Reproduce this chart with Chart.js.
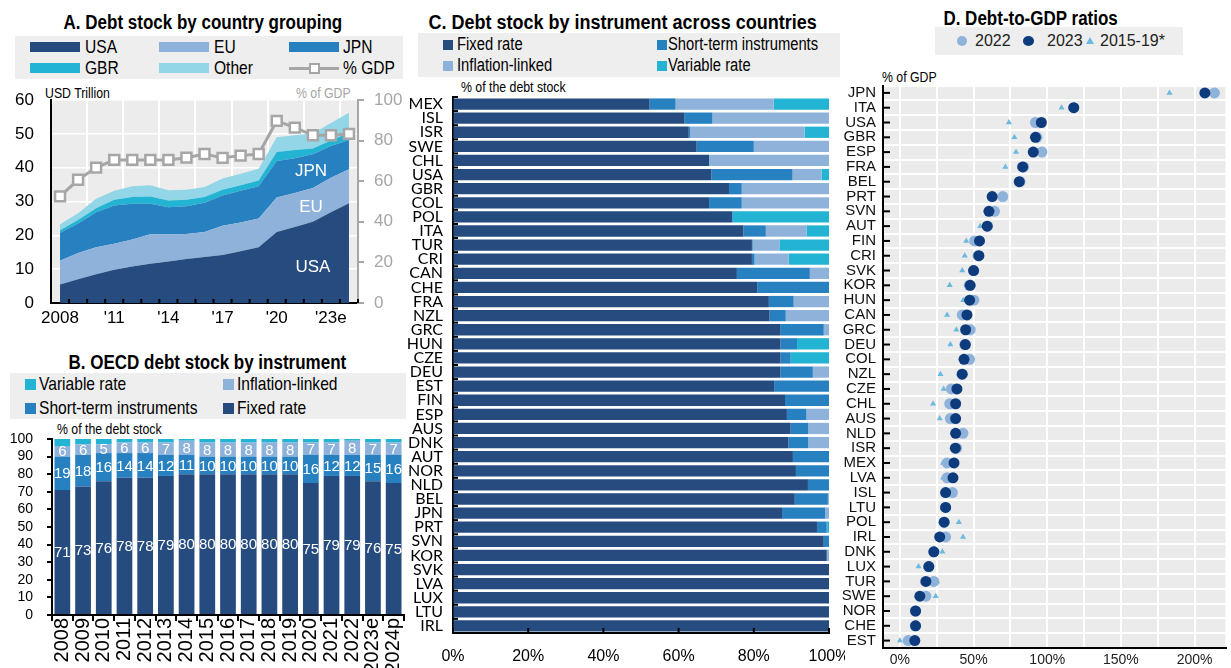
<!DOCTYPE html>
<html>
<head>
<meta charset="utf-8">
<script src="https://cdn.jsdelivr.net/npm/chart.js@4.4.1/dist/chart.umd.min.js"></script>
<style>
  body { margin: 0; width: 1231px; height: 668px; position: relative; overflow: hidden; background: #fff;
         font-family: "Liberation Sans", Arial, sans-serif; color: #000; }
  .title { position: absolute; white-space: nowrap; font-weight: bold; font-size: 20px; line-height: 22px; text-align: center; }
  .title span { display: inline-block; transform: scaleX(0.85); transform-origin: center; }
  .box { position: absolute; background: #eeeeee; }
  .lg, .cap { position: absolute; white-space: nowrap; transform-origin: left center; transform: scaleX(0.82); }
  .lg { font-size: 19px; line-height: 22px; }
  .cap { font-size: 15px; line-height: 18px; }
  .lgd { position: absolute; white-space: nowrap; font-size: 16px; line-height: 20px; color: #222; }
  .sw { position: absolute; }
  canvas { position: absolute; }
</style>
</head>
<body>

<!-- A -->
<div class="title" style="left:0;top:11px;width:406px;"><span>A. Debt stock by country grouping</span></div>
<div class="box" style="left:15px;top:36px;width:388px;height:43px;"></div>
<div class="sw" style="left:30px;top:42px;width:50px;height:10px;background:#264b7f;"></div>
<div class="lg" style="left:85px;top:36px;">USA</div>
<div class="sw" style="left:159px;top:42px;width:50px;height:10px;background:#8fb2db;"></div>
<div class="lg" style="left:214px;top:36px;">EU</div>
<div class="sw" style="left:289px;top:42px;width:50px;height:10px;background:#2780c0;"></div>
<div class="lg" style="left:343px;top:36px;">JPN</div>
<div class="sw" style="left:30px;top:63px;width:50px;height:10px;background:#22b4d2;"></div>
<div class="lg" style="left:85px;top:57px;">GBR</div>
<div class="sw" style="left:159px;top:63px;width:50px;height:10px;background:#92d6e7;"></div>
<div class="lg" style="left:214px;top:57px;">Other</div>
<div class="sw" style="left:289px;top:67px;width:50px;height:3px;background:#a6a6a6;"></div>
<div class="sw" style="left:309px;top:63px;width:7px;height:7px;background:#fff;border:2px solid #a6a6a6;"></div>
<div class="lg" style="left:343px;top:57px;">% GDP</div>
<div class="cap" style="left:45px;top:84px;">USD Trillion</div>
<div class="cap" style="left:296px;top:84px;color:#a6a6a6;">% of GDP</div>
<canvas id="chartA" width="405" height="245" style="left:0;top:85px;"></canvas>

<!-- B -->
<div class="title" style="left:0;top:351px;width:414px;"><span>B. OECD debt stock by instrument</span></div>
<div class="box" style="left:10px;top:373px;width:396px;height:46px;"></div>
<div class="sw" style="left:25px;top:379px;width:11px;height:11px;background:#22b4d2;"></div>
<div class="lg" style="left:39px;top:373px;">Variable rate</div>
<div class="sw" style="left:223px;top:379px;width:11px;height:11px;background:#8fb2db;"></div>
<div class="lg" style="left:237px;top:373px;">Inflation-linked</div>
<div class="sw" style="left:25px;top:403px;width:11px;height:11px;background:#2780c0;"></div>
<div class="lg" style="left:39px;top:397px;">Short-term instruments</div>
<div class="sw" style="left:223px;top:403px;width:11px;height:11px;background:#264b7f;"></div>
<div class="lg" style="left:237px;top:397px;">Fixed rate</div>
<div class="cap" style="left:57px;top:420px;">% of the debt stock</div>
<canvas id="chartB" width="410" height="243" style="left:0;top:425px;"></canvas>

<!-- C -->
<div class="title" style="left:407px;top:11px;width:400px;"><span style="transform:scaleX(0.9);">C. Debt stock by instrument across countries</span></div>
<div class="box" style="left:418px;top:33px;width:422px;height:44px;"></div>
<div class="sw" style="left:443px;top:40px;width:10px;height:10px;background:#264b7f;"></div>
<div class="lg" style="left:457px;top:33px;font-size:18px;">Fixed rate</div>
<div class="sw" style="left:657px;top:40px;width:10px;height:10px;background:#2780c0;"></div>
<div class="lg" style="left:668px;top:33px;font-size:18px;">Short-term instruments</div>
<div class="sw" style="left:443px;top:61px;width:10px;height:10px;background:#8fb2db;"></div>
<div class="lg" style="left:457px;top:54px;font-size:18px;">Inflation-linked</div>
<div class="sw" style="left:657px;top:61px;width:10px;height:10px;background:#22b4d2;"></div>
<div class="lg" style="left:668px;top:54px;font-size:18px;">Variable rate</div>
<div class="cap" style="left:461px;top:78px;">% of the debt stock</div>
<canvas id="chartC" width="440" height="578" style="left:405px;top:90px;"></canvas>

<!-- D -->
<div class="title" style="left:928px;top:7px;width:200px;"><span>D. Debt-to-GDP ratios</span></div>
<div class="box" style="left:935px;top:27px;width:248px;height:28px;"></div>
<div class="sw" style="left:957px;top:36px;width:10px;height:10px;border-radius:50%;background:#8fb2db;"></div>
<div class="lgd" style="left:975px;top:31px;">2022</div>
<div class="sw" style="left:1023px;top:36px;width:11px;height:10px;border-radius:50%;background:#0d3b7c;"></div>
<div class="lgd" style="left:1047px;top:31px;">2023</div>
<div class="sw" style="left:1086px;top:37px;width:0;height:0;border-left:4px solid transparent;border-right:4px solid transparent;border-bottom:7px solid #6cb9e0;"></div>
<div class="lgd" style="left:1100px;top:31px;">2015-19*</div>
<div class="cap" style="left:882px;top:68px;">% of GDP</div>
<canvas id="chartD" width="391" height="588" style="left:840px;top:80px;"></canvas>

<script>
// ---- A. debt stock by country grouping (USD trillion, stacked layers)
const yearsA = ['2008', '2009', '2010', '2011', '2012', '2013', '2014', '2015', '2016',
                '2017', '2018', '2019', '2020', '2021', '2022', '2023e', '2024p'];
const tickLabelsA = ['2008', '', '', "'11", '', '', "'14", '', '', "'17", '', '', "'20", '', '', "'23e", ''];
const usaA = [5.5, 7, 8.5, 9.8, 10.8, 11.6, 12.3, 13, 13.6, 14.2, 15.3, 16.5, 21, 22.5, 24, 26.8, 29.5];
const euA = [7, 7.8, 8, 7.7, 8, 8.7, 8, 7.4, 7.4, 8.6, 8.5, 8.5, 10.2, 10, 10, 10.2, 10];
const jpnA = [8.3, 8.7, 10.3, 11.3, 10.5, 9, 8, 8.2, 8.6, 9, 9.4, 9.5, 10.8, 10.3, 10, 9.4, 8.7];
const gbrA = [0.7, 1, 1.2, 1.7, 2, 2.2, 2, 1.9, 1.7, 1.7, 1.6, 1.7, 2.6, 2.4, 1.7, 1.6, 2.1];
const otherA = [1.8, 2, 2.8, 2.7, 3.2, 3.3, 3, 3, 3, 3.3, 3.4, 3.5, 4.4, 4.4, 4.4, 5.2, 5.9];
const gdpA = [52.5, 60.7, 66.7, 70.5, 70.5, 70.5, 70.5, 71.6, 73.4, 71.5, 72.6, 73.4, 89.7, 86.4, 82.6, 82.6, 83.3];

// ---- B. OECD debt stock by instrument (% of debt stock)
const yearsB = ['2008', '2009', '2010', '2011', '2012', '2013', '2014', '2015', '2016',
                '2017', '2018', '2019', '2020', '2021', '2022', '2023e', '2024p'];
const fixedB = [71, 73, 76, 78, 78, 79, 80, 80, 80, 80, 80, 80, 75, 79, 79, 76, 75];
const shortB = [19, 18, 16, 14, 14, 12, 11, 10, 10, 10, 10, 10, 16, 12, 12, 15, 16];
const inflB = [6, 6, 5, 6, 6, 7, 8, 8, 8, 8, 8, 8, 7, 7, 8, 7, 7];
const varB = [4, 3, 3, 2, 2, 2, 1, 2, 2, 2, 2, 2, 2, 2, 1, 2, 2];

// ---- C. debt stock by instrument across countries (%)
const countriesC = ['MEX', 'ISL', 'ISR', 'SWE', 'CHL', 'USA', 'GBR', 'COL', 'POL', 'ITA', 'TUR', 'CRI', 'CAN',
                    'CHE', 'FRA', 'NZL', 'GRC', 'HUN', 'CZE', 'DEU', 'EST', 'FIN', 'ESP', 'AUS', 'DNK', 'AUT',
                    'NOR', 'NLD', 'BEL', 'JPN', 'PRT', 'SVN', 'KOR', 'SVK', 'LVA', 'LUX', 'LTU', 'IRL'];
const fixedC = [52.3, 61.6, 62.7, 64.8, 68.1, 68.7, 73.4, 68.1, 74.2, 77.2, 79.5, 79.5, 75.5,
                80.9, 84.0, 84.2, 87.0, 87.1, 87.1, 87.1, 85.4, 88.3, 88.8, 89.8, 89.2, 90.4,
                91.2, 94.4, 90.9, 87.5, 96.8, 98.6, 99.4, 100, 100, 100, 100, 100];
const shortC = [6.9, 7.4, 0.4, 15.2, 0, 21.6, 3.4, 8.7, 0.2, 6, 0.2, 0.7, 19.4,
                19.1, 6.6, 4.3, 11.6, 4.4, 2.7, 8.6, 14.6, 11.7, 5.2, 4.7, 5.3, 9.6,
                8.8, 5.6, 8.8, 11.5, 2.6, 1.4, 0, 0, 0, 0, 0, 0];
const inflC = [26.1, 31, 30.4, 20, 31.9, 7.7, 23.2, 23.2, 0, 10.9, 7.1, 9.1, 5.1,
               0, 9.4, 11.5, 1.4, 0, 0, 4.3, 0, 0, 6, 5.5, 5.5, 0,
               0, 0, 0.3, 1, 0.1, 0, 0.6, 0, 0, 0, 0, 0];
const varC = [14.7, 0, 6.5, 0, 0, 2, 0, 0, 25.6, 5.9, 13.2, 10.7, 0,
              0, 0, 0, 0, 8.5, 10.2, 0, 0, 0, 0, 0, 0, 0,
              0, 0, 0, 0, 0.5, 0, 0, 0, 0, 0, 0, 0];

// ---- D. debt-to-GDP ratios (%)
const countriesD = ['JPN', 'ITA', 'USA', 'GBR', 'ESP', 'FRA', 'BEL', 'PRT', 'SVN', 'AUT', 'FIN', 'CRI', 'SVK',
                    'KOR', 'HUN', 'CAN', 'GRC', 'DEU', 'COL', 'NZL', 'CZE', 'CHL', 'AUS', 'NLD', 'ISR', 'MEX',
                    'LVA', 'ISL', 'LTU', 'POL', 'IRL', 'DNK', 'LUX', 'TUR', 'SWE', 'NOR', 'CHE', 'EST'];
const ratio2023 = [207, 118, 96, 92, 90.5, 83.3, 81, 62.6, 60.4, 59.2, 54, 53.6, 50,
                   47.7, 47.3, 45.5, 44.6, 44.4, 43.5, 42.3, 38.7, 37.8, 37.8, 37.8, 37.6, 36.7,
                   36, 31, 31, 30, 27, 23, 19.6, 17.6, 13.5, 10.6, 10.6, 10.1];
const ratio2022 = [213.5, 118, 92, 93, 96.4, 84, 81.5, 69.8, 64.2, 59.5, 50.7, 53, 50,
                   47, 50.2, 42.3, 47.7, 44, 47.3, 42, 34.9, 33.8, 34.2, 42.8, 38.5, 32,
                   32, 35.6, 31, 30, 31, 23, 19.6, 23, 17.6, 10.6, 10.6, 5.6];
const avg1519 = [183, 109.7, 74, 77.7, 78.8, 71.6, 80, 71, 62, 54.5, 45, 44, 42.3,
                 33.8, 43, 32, 38.3, 34.2, 43, 27.5, 29.7, 22.5, 27, 43.9, 37, 29.3,
                 29.3, 32, 31, 40, 42.8, 28.8, 12.6, 25.2, 24.3, 10, 10, 0];
const xTicksD = [0, 25, 50, 75, 100, 125, 150, 175, 200];

const NAVY = '#264b7f', MID = '#2780c0', LIGHT = '#8fb2db', CYAN = '#22b4d2', PALE = '#92d6e7';
const SANS = '"Liberation Sans", Arial, sans-serif';

Chart.defaults.font.family = SANS;
Chart.defaults.color = '#000';

// fixed axis sizes so the plot areas land where the reference has them
function fixAxis(size) {
    return function (scale) {
        if (scale.isHorizontal()) scale.height = size; else scale.width = size;
        scale.paddingLeft = scale.paddingRight = scale.paddingTop = scale.paddingBottom = 0;
    };
}

const plotBg = {
    id: 'plotBg',
    beforeDraw(chart, args, opts) {
        if (!opts.color) return;
        const { ctx, chartArea: a } = chart;
        ctx.save();
        ctx.fillStyle = opts.color;
        ctx.fillRect(a.left, a.top, a.right - a.left, a.bottom - a.top);
        ctx.restore();
    }
};

// value labels in the middle of stacked bar segments
const barLabels = {
    id: 'barLabels',
    afterDatasetsDraw(chart, args, opts) {
        const ctx = chart.ctx;
        ctx.save();
        ctx.font = opts.font;
        ctx.fillStyle = '#fff';
        ctx.textAlign = 'center';
        ctx.textBaseline = 'middle';
        chart.data.datasets.forEach((ds, i) => {
            if (!ds.showValues) return;
            chart.getDatasetMeta(i).data.forEach((bar, j) => {
                const p = bar.getProps(['x', 'y', 'base'], true);
                ctx.fillText(ds.data[j], p.x, (p.y + p.base) / 2 + 1);
            });
        });
        ctx.restore();
    }
};

// white names written over the areas
const areaText = {
    id: 'areaText',
    afterDatasetsDraw(chart, args, opts) {
        if (!opts.items) return;
        const ctx = chart.ctx;
        ctx.save();
        ctx.font = opts.font;
        ctx.fillStyle = '#fff';
        ctx.textAlign = 'center';
        ctx.textBaseline = 'middle';
        opts.items.forEach(t => {
            ctx.fillText(t.text, chart.scales.x.getPixelForValue(t.index), chart.scales.y.getPixelForValue(t.value));
        });
        ctx.restore();
    }
};

// short tick marks pointing into the plot
const innerTicks = {
    id: 'innerTicks',
    afterDatasetsDraw(chart, args, opts) {
        (opts.marks || []).forEach(m => {
            const s = chart.scales[m.axis];
            const ctx = chart.ctx;
            let pos = s.ticks.map((t, i) => s.getPixelForTick(i));
            if (m.between) {
                const h = (pos[1] - pos[0]) / 2;
                pos = pos.map(p => p - h).concat(pos[pos.length - 1] + h);
            }
            ctx.save();
            ctx.strokeStyle = m.color || '#000';
            ctx.lineWidth = 2;
            pos.forEach(p => {
                ctx.beginPath();
                if (s.isHorizontal()) { ctx.moveTo(p, s.top); ctx.lineTo(p, s.top - m.len); }
                else { ctx.moveTo(s.right, p); ctx.lineTo(s.right + m.len, p); }
                ctx.stroke();
            });
            ctx.restore();
        });
    }
};

const common = { responsive: false, animation: false, events: [], devicePixelRatio: 1 };

// ---------- A
function area(label, data, color, fill) {
    return { label: label, data: data, backgroundColor: color, borderWidth: 0, pointRadius: 0, fill: fill, tension: 0 };
}
new Chart(document.getElementById('chartA'), {
    type: 'line',
    data: {
        labels: yearsA,
        datasets: [
            area('USA', usaA, NAVY, 'origin'),
            area('EU', euA, LIGHT, '-1'),
            area('JPN', jpnA, MID, '-1'),
            area('GBR', gbrA, CYAN, '-1'),
            area('Other', otherA, PALE, '-1'),
            {
                label: '% GDP', data: gdpA, yAxisID: 'y2', fill: false, order: -1,
                borderColor: '#a6a6a6', borderWidth: 3, pointStyle: 'rect', pointRadius: 7,
                pointBackgroundColor: '#fff', pointBorderColor: '#a6a6a6', pointBorderWidth: 2.5
            }
        ]
    },
    options: {
        ...common,
        layout: { padding: { top: 15, left: 0, right: 0, bottom: 0 } },
        plugins: {
            legend: { display: false }, tooltip: { enabled: false },
            plotBg: { color: '#ececec' },
            areaText: {
                font: '17px ' + SANS,
                items: [{ text: 'USA', index: 14, value: 10.6 }, { text: 'EU', index: 13.9, value: 28.4 }, { text: 'JPN', index: 13.9, value: 39 }]
            },
            innerTicks: { marks: [{ axis: 'x', len: 4, between: true }] }
        },
        scales: {
            x: {
                offset: true,
                grid: { offset: true, drawTicks: false, lineWidth: 2,
                        color: c => (c.index > 0 && c.index % 2 === 0) ? '#fff' : 'rgba(0,0,0,0)' },
                border: { color: '#000', width: 2 },
                ticks: { autoSkip: false, maxRotation: 0, padding: 5, font: { size: 17 }, callback: (v, i) => tickLabelsA[i] },
                afterFit: fixAxis(27)
            },
            y: {
                stacked: true, min: 0, max: 60,
                ticks: { stepSize: 10, padding: 17, font: { size: 17 } },
                grid: { color: '#fff', lineWidth: 1.5, drawTicks: false },
                border: { color: '#000', width: 2 },
                afterFit: fixAxis(51)
            },
            y2: {
                position: 'right', min: 0, max: 100,
                ticks: { stepSize: 10, color: '#a6a6a6', padding: 10, font: { size: 17 } },
                grid: { drawOnChartArea: false, tickColor: '#a6a6a6', tickLength: 6, lineWidth: 2 },
                border: { color: '#a6a6a6', width: 2 },
                afterFit: fixAxis(47)
            }
        }
    },
    plugins: [plotBg, areaText, innerTicks]
});

// ---------- B
new Chart(document.getElementById('chartB'), {
    type: 'bar',
    data: {
        labels: yearsB,
        datasets: [
            { label: 'Fixed rate', data: fixedB, backgroundColor: NAVY, showValues: true },
            { label: 'Short-term instruments', data: shortB, backgroundColor: MID, showValues: true },
            { label: 'Inflation-linked', data: inflB, backgroundColor: LIGHT, showValues: true },
            { label: 'Variable rate', data: varB, backgroundColor: CYAN }
        ]
    },
    options: {
        ...common,
        layout: { padding: { top: 14, right: 6, left: 0, bottom: 0 } },
        datasets: { bar: { barPercentage: 0.76, categoryPercentage: 1 } },
        plugins: { legend: { display: false }, tooltip: { enabled: false }, barLabels: { font: '15px ' + SANS } },
        scales: {
            x: {
                stacked: true,
                grid: { offset: true, drawOnChartArea: false, tickLength: 6, tickColor: '#000', lineWidth: 2 },
                border: { color: '#000', width: 2 },
                ticks: { minRotation: 90, maxRotation: 90, autoSkip: false, padding: -3, font: { size: 20 } },
                afterFit: fixAxis(53)
            },
            y: {
                stacked: true, min: 0, max: 100,
                ticks: { stepSize: 10, autoSkip: false, padding: 14, font: { size: 14 } },
                grid: { drawOnChartArea: false, tickLength: 5, tickColor: '#000', lineWidth: 2 },
                border: { color: '#000', width: 2 },
                afterFit: fixAxis(52)
            }
        }
    },
    plugins: [barLabels]
});

// ---------- C
new Chart(document.getElementById('chartC'), {
    type: 'bar',
    data: {
        labels: countriesC,
        datasets: [
            { label: 'Fixed rate', data: fixedC, backgroundColor: NAVY },
            { label: 'Short-term instruments', data: shortC, backgroundColor: MID },
            { label: 'Inflation-linked', data: inflC, backgroundColor: LIGHT },
            { label: 'Variable rate', data: varC, backgroundColor: CYAN }
        ]
    },
    options: {
        ...common,
        indexAxis: 'y',
        layout: { padding: { top: 7, right: 16, left: 0, bottom: 0 } },
        datasets: { bar: { barPercentage: 0.8, categoryPercentage: 1 } },
        plugins: {
            legend: { display: false }, tooltip: { enabled: false },
            innerTicks: { marks: [{ axis: 'y', len: 5, between: true }, { axis: 'x', len: 5 }] }
        },
        scales: {
            x: {
                stacked: true, min: 0, max: 100,
                ticks: { stepSize: 20, padding: 14, font: { size: 16 }, callback: v => v + '%' },
                grid: { drawOnChartArea: false, drawTicks: false },
                border: { color: '#000', width: 2 },
                afterFit: fixAxis(35)
            },
            y: {
                stacked: true,
                ticks: { autoSkip: false, padding: 10, font: { family: 'Lato', size: 16 } },
                grid: { drawOnChartArea: false, drawTicks: false },
                border: { color: '#000', width: 2 },
                afterFit: fixAxis(48)
            }
        }
    },
    plugins: [innerTicks]
});

// ---------- D
function dots(label, data, color, style, radius, order) {
    return {
        label: label, data: data, showLine: false, order: order,
        pointStyle: style, pointRadius: radius, pointBorderWidth: 0,
        backgroundColor: color, borderColor: color
    };
}
new Chart(document.getElementById('chartD'), {
    type: 'line',
    data: {
        labels: countriesD,
        datasets: [
            dots('2023', ratio2023, '#0d3b7c', 'circle', 5.5, 0),
            dots('2022', ratio2022, '#8fb2db', 'circle', 5.5, 1),
            dots('2015-19*', avg1519, '#6cb9e0', 'triangle', 3.5, 2)
        ]
    },
    options: {
        ...common,
        indexAxis: 'y',
        layout: { padding: { top: 5, right: 4, left: 0, bottom: 0 } },
        plugins: {
            legend: { display: false }, tooltip: { enabled: false },
            plotBg: { color: '#ebebeb' },
            innerTicks: { marks: [{ axis: 'y', len: 7 }] }
        },
        scales: {
            x: {
                type: 'linear', min: -11.5, max: 221,
                afterBuildTicks: s => { s.ticks = xTicksD.map(v => ({ value: v })); },
                ticks: { padding: 4, color: '#222', font: { size: 14 },
                         callback: v => (v % 50 === 0 ? v + '%' : '') },
                grid: { color: '#fff', lineWidth: 2, drawTicks: false },
                border: { color: '#000', width: 2 },
                afterFit: fixAxis(20)
            },
            y: {
                type: 'category', offset: true,
                ticks: { autoSkip: false, padding: 7, color: '#111', font: { size: 15 } },
                grid: { offset: true, color: '#fff', lineWidth: 2, drawTicks: false },
                border: { color: '#000', width: 2 },
                afterFit: fixAxis(43)
            }
        }
    },
    plugins: [plotBg, innerTicks]
});
</script>
</body>
</html>
